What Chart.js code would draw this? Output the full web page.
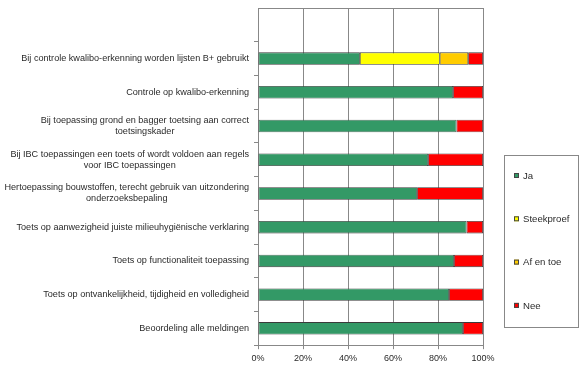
<!DOCTYPE html>
<html>
<head>
<meta charset="utf-8">
<script src="https://cdn.jsdelivr.net/npm/chart.js@4.4.1/dist/chart.umd.min.js"></script>
<style>
  html, body { margin: 0; padding: 0; background: #fff; }
  #wrap { width: 580px; height: 370px; position: relative; }
</style>
</head>
<body>
<div id="wrap"><canvas id="chart"></canvas></div>
<script>
// categorieen (van boven naar beneden)
const categories = [
  ['Bij controle kwalibo-erkenning worden lijsten B+ gebruikt'],
  ['Controle op kwalibo-erkenning'],
  ['Bij toepassing grond en bagger toetsing aan correct', 'toetsingskader'],
  ['Bij IBC toepassingen een toets of wordt voldoen aan regels', 'voor IBC toepassingen'],
  ['Hertoepassing bouwstoffen, terecht gebruik van uitzondering', 'onderzoeksbepaling'],
  ['Toets op aanwezigheid juiste milieuhygiënische verklaring'],
  ['Toets op functionaliteit toepassing'],
  ['Toets op ontvankelijkheid, tijdigheid en volledigheid'],
  ['Beoordeling alle meldingen']
];

// percentages per antwoord
const ja         = [45.3, 86.7, 88.2, 75.6, 70.7, 92.7, 87.1, 84.9, 91.1];
const steekproef = [35.5, 0, 0, 0, 0, 0, 0, 0, 0];
const afEnToe    = [12.6, 0, 0, 0, 0, 0, 0, 0, 0];
const nee        = [6.6, 13.3, 11.8, 24.4, 29.3, 7.3, 12.9, 15.1, 8.9];

const xTicks = [0, 20, 40, 60, 80, 100];

const FONT = '"Liberation Sans", Arial, sans-serif';
const GRID = '#888';

// lege bovenste rij zoals in het origineel
const withGap = arr => [null].concat(arr);

const series = [
  { label: 'Ja', data: ja, color: '#339966' },
  { label: 'Steekproef', data: steekproef, color: '#ffff00' },
  { label: 'Af en toe', data: afEnToe, color: '#ffcc00' },
  { label: 'Nee', data: nee, color: '#ff0000' }
];

// labels links van de as, zelf getekend (blok rechts uitgelijnd, regels gecentreerd)
const yLabelsPlugin = {
  id: 'yLabels',
  afterDraw(chart) {
    const ctx = chart.ctx;
    const y = chart.scales.y;
    const rightX = 249;
    const lineH = 11;
    ctx.save();
    ctx.font = '9.1px ' + FONT;
    ctx.fillStyle = '#2a2a2a';
    ctx.textAlign = 'center';
    ctx.textBaseline = 'middle';
    categories.forEach((lines, i) => {
      const cy = y.getPixelForValue(i + 1);
      const w = Math.max(...lines.map(l => ctx.measureText(l).width));
      const cx = rightX - w / 2;
      const startY = cy - (lines.length - 1) * lineH / 2;
      lines.forEach((l, k) => ctx.fillText(l, cx, startY + k * lineH));
    });
    // bovenrand van het plotgebied
    const a = chart.chartArea;
    ctx.strokeStyle = GRID;
    ctx.lineWidth = 1;
    ctx.beginPath();
    ctx.moveTo(a.left, a.top + 0.5);
    ctx.lineTo(a.right, a.top + 0.5);
    ctx.stroke();
    ctx.restore();
  }
};

// legenda in een kader rechts
const boxLegendPlugin = {
  id: 'boxLegend',
  afterDraw(chart) {
    const ctx = chart.ctx;
    ctx.save();
    ctx.strokeStyle = '#888';
    ctx.lineWidth = 1;
    ctx.strokeRect(504.5, 155.5, 74, 172);
    ctx.font = '9.6px ' + FONT;
    ctx.textBaseline = 'middle';
    ctx.textAlign = 'left';
    chart.data.datasets.forEach((ds, i) => {
      const cy = 176 + i * 43.3;
      ctx.fillStyle = ds.backgroundColor;
      ctx.fillRect(514, cy - 3, 5, 5);
      ctx.strokeStyle = '#444';
      ctx.strokeRect(514.5, cy - 2.5, 4, 4);
      ctx.fillStyle = '#2a2a2a';
      ctx.fillText(ds.label, 523, cy);
    });
    ctx.restore();
  }
};

new Chart(document.getElementById('chart'), {
  type: 'bar',
  data: {
    labels: withGap(categories.map(c => c.join(' '))),
    datasets: series.map(s => ({
      label: s.label,
      data: withGap(s.data),
      backgroundColor: s.color,
      borderColor: '#3a3a3a',
      borderWidth: c => (c.raw ? 0.8 : 0),
      borderSkipped: false,
      categoryPercentage: 1,
      barPercentage: 0.37
    }))
  },
  options: {
    indexAxis: 'y',
    responsive: true,
    maintainAspectRatio: false,
    animation: false,
    layout: { padding: { left: 254, right: 97, top: 8, bottom: 2 } },
    plugins: {
      legend: { display: false },
      tooltip: { enabled: false }
    },
    scales: {
      x: {
        stacked: true,
        min: 0,
        max: 100,
        afterBuildTicks: axis => { axis.ticks = xTicks.map(v => ({ value: v })); },
        ticks: {
          callback: v => v + '%',
          font: { family: FONT, size: 9 },
          color: '#2a2a2a',
          padding: 4,
          maxRotation: 0
        },
        grid: { color: GRID, lineWidth: 1, tickLength: 4 },
        border: { color: GRID, width: 1 }
      },
      y: {
        stacked: true,
        ticks: { display: false },
        grid: { offset: true, drawOnChartArea: false, color: GRID, tickLength: 4 },
        border: { color: GRID, width: 1 }
      }
    }
  },
  plugins: [yLabelsPlugin, boxLegendPlugin]
});
</script>
</body>
</html>
